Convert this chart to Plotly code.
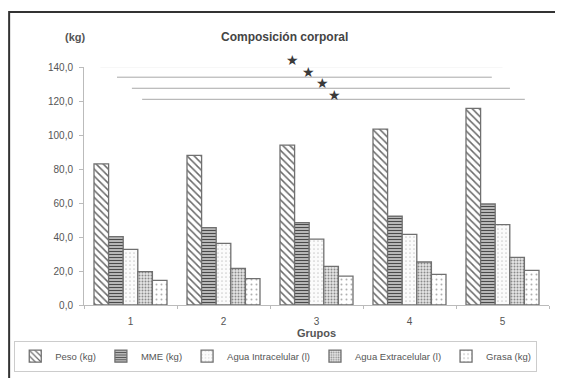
import plotly.graph_objects as go

# ---- data ----
groups = ["1", "2", "3", "4", "5"]
peso = [83.0, 88.0, 94.0, 103.5, 115.7]
mme = [40.2, 45.5, 48.4, 52.2, 59.4]
agua_intra = [32.7, 36.3, 38.8, 41.6, 47.3]
agua_extra = [19.6, 21.6, 22.7, 25.3, 28.0]
grasa = [14.5, 15.5, 17.0, 18.0, 20.4]
series_names = ["Peso (kg)", "MME (kg)", "Agua Intracelular (l)", "Agua Extracelular (l)", "Grasa (kg)"]
y_tickvals = [0, 20, 40, 60, 80, 100, 120, 140]
y_ticktext = ["0,0", "20,0", "40,0", "60,0", "80,0", "100,0", "120,0", "140,0"]
Y_MAX = 140

# significance marks (decoration)
sig_lines = [  # (x0, x1 in paper, y value, color)
    (0.035, 0.90, 140.0, "#f0f0f0"),
    (0.071, 0.877, 134.0, "#a8a8a8"),
    (0.103, 0.916, 127.5, "#a8a8a8"),
    (0.125, 0.948, 121.0, "#a8a8a8"),
]
star_x = [0.449, 0.482, 0.512, 0.538]
star_y = [144.0, 137.0, 130.6, 123.5]

FONT = "Liberation Sans, Arial, sans-serif"
TXT = "#555555"

styles = [
    dict(shape="\\", fgcolor="#6a6a6a", bgcolor="#ffffff", size=5, solidity=0.3),
    dict(shape="-", fgcolor="#4a4a4a", bgcolor="#ffffff", size=3, solidity=0.6),
    dict(shape=".", fgcolor="#cfcfcf", bgcolor="#fbfbfb", size=4, solidity=0.15),
    dict(shape=".", fgcolor="#8a8a8a", bgcolor="#e6e6e6", size=3, solidity=0.35),
    dict(shape=".", fgcolor="#b0b0b0", bgcolor="#ffffff", size=5, solidity=0.12),
]

fig = go.Figure()
for name, vals, st in zip(series_names, [peso, mme, agua_intra, agua_extra, grasa], styles):
    fig.add_trace(go.Bar(
        x=groups, y=vals, name=name,
        marker=dict(color="#ffffff", line=dict(color="#707070", width=1.3),
                    pattern=dict(shape=st["shape"], fgcolor=st["fgcolor"], bgcolor=st["bgcolor"],
                                 size=st["size"], solidity=st["solidity"], fillmode="replace")),
    ))

shapes = []
# outer frame
shapes.append(dict(type="rect", xref="paper", yref="paper", x0=-0.161, x1=1.06, y0=-0.33, y1=1.231,
                   line=dict(color="#333333", width=2), fillcolor="rgba(0,0,0,0)", layer="below"))
for x0, x1, yv, col in sig_lines:
    shapes.append(dict(type="line", xref="paper", yref="y", x0=x0, x1=x1, y0=yv, y1=yv,
                       line=dict(color=col, width=1)))

annotations = []
for sx, sy in zip(star_x, star_y):
    annotations.append(dict(x=sx, y=sy / Y_MAX, xref="paper", yref="paper", text="★", showarrow=False,
                            xanchor="center", yanchor="middle",
                            font=dict(family="DejaVu Sans", size=14, color="#3a3a3a")))
annotations.append(dict(x=0.432, y=1.126, xref="paper", yref="paper", text="<b>Composición corporal</b>",
                        showarrow=False, yanchor="middle",
                        font=dict(family=FONT, size=12, color="#444444")))
annotations.append(dict(x=-0.045, y=1.126, xref="paper", yref="paper", text="<b>(kg)</b>",
                        showarrow=False, yanchor="middle",
                        font=dict(family=FONT, size=11, color="#555555")))

# page body has an 8px margin -> figure is 8px smaller and margins shifted
fig.update_layout(
    width=555, height=370,
    margin=dict(l=76, r=14, t=59, b=73, autoexpand=False),
    paper_bgcolor="white", plot_bgcolor="white",
    barmode="group", bargap=0.215, bargroupgap=0,
    font=dict(family=FONT, size=10, color=TXT),
    showlegend=True,
    legend=dict(orientation="h", x=-0.15, xanchor="left", y=-0.15, yanchor="top",
                bordercolor="#cccccc", borderwidth=1, font=dict(size=9.5, color=TXT),
                itemwidth=30, traceorder="normal", tracegroupgap=0),
    shapes=shapes, annotations=annotations,
    xaxis=dict(showline=True, linecolor="#bbbbbb", linewidth=1, ticks="outside", tickson="boundaries",
               ticklen=3, tickcolor="#bbbbbb", showgrid=False, ticklabelstandoff=7,
               title=dict(text="<b>Grupos</b>", standoff=0, font=dict(size=11, color="#555555")),
               tickfont=dict(size=10, color=TXT)),
    yaxis=dict(range=[0, Y_MAX], tickvals=y_tickvals, ticktext=y_ticktext, showline=True,
               linecolor="#bbbbbb", linewidth=1, ticks="outside", ticklen=4, tickcolor="#bbbbbb",
               ticklabelstandoff=4,
               showgrid=False, zeroline=False, tickfont=dict(size=10, color=TXT)),
)

fig.write_html("out.html")
